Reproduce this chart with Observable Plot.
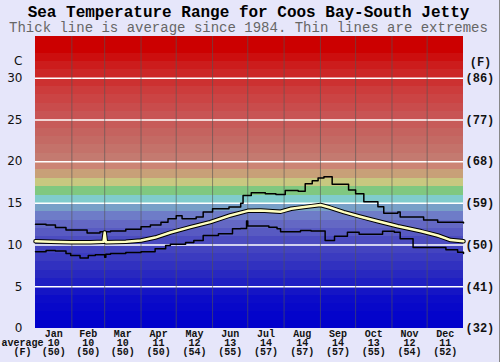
<!DOCTYPE html>
<html><head><meta charset="utf-8">
<script src="https://cdn.jsdelivr.net/npm/d3@7"></script>
<script src="https://cdn.jsdelivr.net/npm/@observablehq/plot@0.6"></script>
<style>
html,body{margin:0;padding:0;background:#e6e6fa;}
#wrap{position:relative;width:500px;height:362px;background:#e6e6fa;overflow:hidden;}
#wrap svg{position:absolute;left:0;top:0;}
.t{position:absolute;left:0;width:497px;text-align:center;white-space:nowrap;font-family:"Liberation Mono",monospace;}
#title{top:5px;font-size:16px;line-height:16px;font-weight:bold;color:#000;}
#sub{top:21px;font-size:14px;line-height:14px;color:#666;}
#edge{position:absolute;right:0;top:0;width:1px;height:362px;background:#888;}
</style></head>
<body><div id="wrap"></div>
<script>
// ---- data ----
const months = ["Jan","Feb","Mar","Apr","May","Jun","Jul","Aug","Sep","Oct","Nov","Dec"];
const monthStarts = [0,31,59,90,120,151,181,212,243,273,304,334,365];
const avgC = [10,10,10,11,12,13,14,14,14,13,12,11];
const avgF = [50,50,50,50,54,55,57,57,57,55,54,52];
const yTicks = [0,5,10,15,20,25,30];

const maxDay = [0,9,17,26,38,44,55,64,77,90,98,107,113,120,125,137,143,151,165,175,177,184,196,205,213,224,230,236,241,246,253,267,273,280,292,297,309,311,331,343,365];
const maxT   = [12.5,12.4,12.1,11.8,11.8,11.45,11.6,11.7,11.9,12.2,12.4,12.75,13.15,13.5,13.15,13.35,13.95,14.35,14.55,15.0,15.95,16.27,16.15,16.05,16.55,16.45,17.35,17.7,18.05,18.2,17.3,16.6,16.15,15.2,14.6,13.8,13.95,13.35,13.0,12.75,12.65];

const avgDay = [0,13,30,47,58,59,60,77,90,102,115,132,149,166,181,192,209,218,229,243,251,263,277,292,309,329,343,354,365];
const avgT   = [10.45,10.4,10.35,10.35,10.4,11.5,10.35,10.4,10.55,10.9,11.5,12.15,12.75,13.55,14.1,14.15,14.0,14.35,14.55,14.8,14.5,13.95,13.4,12.85,12.25,11.65,11.15,10.6,10.45];

const minDay = [0,9,17,26,30,38,45,51,59,60,64,77,90,102,111,115,128,135,143,156,168,175,180,181,199,206,209,226,235,247,255,266,276,296,306,311,322,350,360,365];
const minT   = [9.2,9.35,9.3,9.0,8.75,8.45,8.75,8.85,8.55,8.9,9.0,9.1,9.2,9.55,9.95,10.1,10.3,10.55,11.15,11.35,11.95,12.0,12.9,12.3,12.15,11.95,11.6,11.75,11.7,10.55,11.05,11.55,11.3,11.65,11.55,10.75,9.7,9.45,9.15,9.0];

// ---- style: background temperature bands ----
const bandStops  = [0,3,6,9,10,12,13,14,15,16,17,18,19,20,22,25,28,31,33];
const bandColors = ["#0000cc","#0c0cc8","#2828c0","#4444c0","#4c4cc0","#6468c4","#6e7cc8","#78a0c8","#80cccc","#80c880","#c8c880","#c8a078","#cc8474","#c47a70","#c46a64","#c85454","#cc3c3c","#cc1c1c","#cc0000"];
const bandColor = d3.scaleLinear().domain(bandStops).range(bandColors).clamp(true);
const bands = d3.range(0, 35);

const zip = (xs, ys) => xs.map((x, i) => ({x, y: ys[i]}));
const maxData = zip(maxDay, maxT);
const avgData = zip(avgDay, avgT);
const minData = zip(minDay, minT);
const mids = months.map((m, i) => ({x: (monthStarts[i] + monthStarts[i+1]) / 2, label: `${m}\n${avgC[i]}\n(${avgF[i]})`}));

const mono = "'Liberation Mono', 'DejaVu Sans Mono', monospace";

const chart = Plot.plot({
  width: 500, height: 362,
  marginTop: 36, marginBottom: 34, marginLeft: 35, marginRight: 37,
  x: {domain: [0, 365], axis: null},
  y: {domain: [0, 35], axis: null},
  style: {background: "transparent", overflow: "visible"},
  marks: [
    Plot.rect(bands, {y1: d => d, y2: d => d + 1, fill: d => bandColor(d), shapeRendering: "crispEdges"}),
    Plot.ruleY(yTicks.filter(d => d > 0), {stroke: "white", strokeWidth: 1.5}),
    Plot.ruleX(monthStarts.slice(1, -1), {stroke: "#555", strokeOpacity: 0.6, strokeWidth: 1}),
    Plot.line(maxData, {x: "x", y: "y", curve: "step-after", stroke: "black", strokeWidth: 1.5}),
    Plot.line(minData, {x: "x", y: "y", curve: "step-after", stroke: "black", strokeWidth: 1.5}),
    Plot.line(avgData, {x: "x", y: "y", stroke: "black", strokeWidth: 4.5, strokeLinejoin: "round"}),
    Plot.line(avgData, {x: "x", y: "y", stroke: "#ffffc0", strokeWidth: 2.5, strokeLinejoin: "round"}),
    Plot.axisY({anchor: "left", label: null, ticks: yTicks, tickSize: 0, tickPadding: 13, fontSize: 12, fontFamily: "'DejaVu Sans', sans-serif", fill: "#111"}),
    Plot.axisY({anchor: "right", label: null, ticks: yTicks, tickSize: 0, tickPadding: 2, tickFormat: d => `(${Math.round(d * 9 / 5 + 32)})`, fontSize: 12, fontFamily: mono, fontWeight: "bold", fill: "#111"}),
    Plot.text(["C"], {frameAnchor: "top-left", dx: -13, dy: 20, textAnchor: "end", fontSize: 12, fontFamily: "'DejaVu Sans', sans-serif", fill: "#111"}),
    Plot.text(["(F)"], {frameAnchor: "top-right", dx: 17, dy: 20.5, textAnchor: "middle", fontSize: 12, fontFamily: mono, fontWeight: "bold", fill: "#111"}),
    Plot.text(mids, {x: "x", text: "label", frameAnchor: "bottom", lineAnchor: "top", dy: 2.4, lineHeight: 0.9, fontSize: 10, fontFamily: mono, fontWeight: "bold", fill: "#111"}),
    Plot.text(["average\n(F)"], {frameAnchor: "bottom-left", dx: -13, dy: 11.4, lineAnchor: "top", textAnchor: "middle", lineHeight: 0.9, fontSize: 10, fontFamily: mono, fontWeight: "bold", fill: "#111"})
  ]
});
const wrap = document.getElementById("wrap");
wrap.appendChild(chart);
wrap.insertAdjacentHTML("beforeend", `<div class="t" id="title">Sea Temperature Range for Coos Bay-South Jetty</div><div class="t" id="sub">Thick line is average since 1984. Thin lines are extremes</div><div id="edge"></div>`);
</script>
</body></html>
